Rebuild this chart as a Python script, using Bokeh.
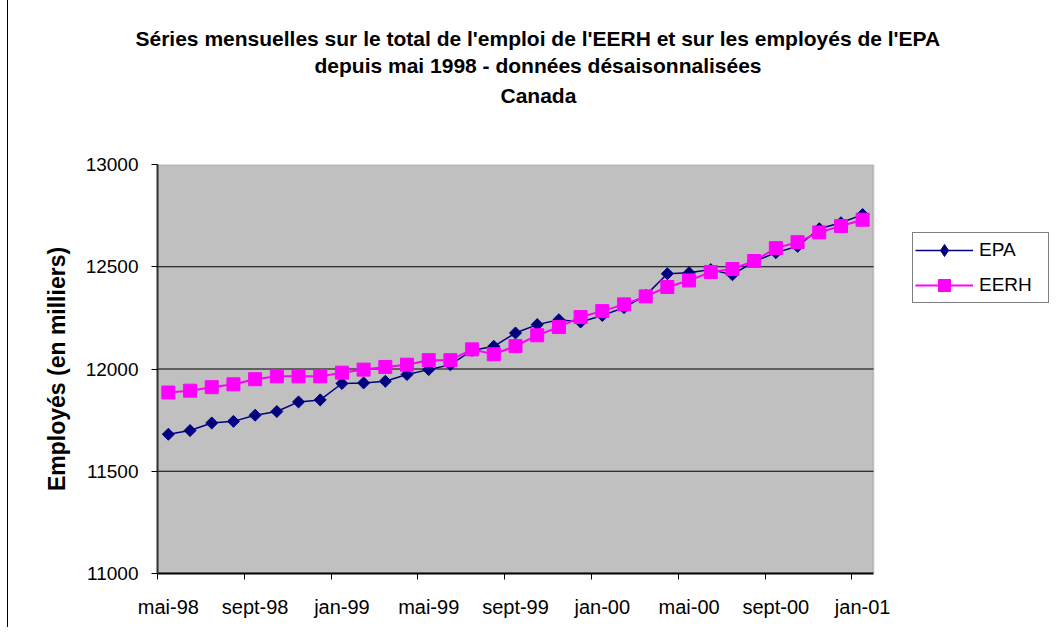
import math
from bokeh.plotting import figure
from bokeh.models import Range1d, FixedTicker, Legend, LegendItem, Title, BoxAnnotation
from bokeh.embed import file_html
from bokeh.resources import INLINE

months = ["mai-98", "juin-98", "juil-98", "août-98", "sept-98", "oct-98", "nov-98", "déc-98",
          "jan-99", "févr-99", "mars-99", "avr-99", "mai-99", "juin-99", "juil-99", "août-99",
          "sept-99", "oct-99", "nov-99", "déc-99", "jan-00", "févr-00", "mars-00", "avr-00",
          "mai-00", "juin-00", "juil-00", "août-00", "sept-00", "oct-00", "nov-00", "déc-00",
          "jan-01"]

epa = [11681, 11699, 11736, 11744, 11774, 11792, 11839, 11849,
       11929, 11932, 11940, 11973, 11997, 12021, 12091, 12111,
       12176, 12217, 12241, 12230, 12262, 12300, 12360, 12466,
       12471, 12486, 12461, 12525, 12569, 12600, 12686, 12715,
       12755]

eerh = [11885, 11894, 11911, 11925, 11950, 11964, 11964, 11964,
        11982, 11997, 12010, 12021, 12043, 12043, 12096, 12072,
        12112, 12165, 12205, 12254, 12283, 12316, 12355, 12401,
        12433, 12474, 12489, 12528, 12591, 12620, 12668, 12699,
        12730]

y_ticks = [11000, 11500, 12000, 12500, 13000]
title_lines = ["Séries mensuelles sur le total de l'emploi de l'EERH et sur les employés de l'EPA",
               "depuis mai 1998 - données désaisonnalisées",
               "Canada"]
y_label = "Employés (en milliers)"

FONT = "Liberation Sans"
n = len(months)
x = list(range(n))
label_pos = x[::4]
tick_pos = [i - 0.5 for i in label_pos]

# layout geometry (pixels)
FIG_W, FIG_H = 1042, 627
LEFT, TOP, BOTTOM = 149, 164, 54
PLOT_W = 716                      # width of the grey plotting area
frame_w = FIG_W - LEFT
x0, x1 = -0.5, n - 0.5
x_end = x0 + (x1 - x0) * frame_w / PLOT_W

p = figure(width=FIG_W, height=FIG_H, output_backend="svg", toolbar_location=None,
           x_range=Range1d(x0, x_end), y_range=Range1d(y_ticks[0], y_ticks[-1]),
           min_border_left=LEFT, min_border_right=0, min_border_top=TOP, min_border_bottom=BOTTOM)
p.title.visible = False
p.background_fill_color = "white"
p.border_fill_color = "white"
p.outline_line_color = None
p.xgrid.visible = False
p.ygrid.visible = False

# grey plotting area with its grey border
p.add_layout(BoxAnnotation(left=x0, right=x1, bottom=y_ticks[0], top=y_ticks[-1],
                           fill_color="#C0C0C0", fill_alpha=1, line_color="#808080",
                           line_width=2, level="underlay"))

# horizontal gridlines inside the plotting area
grid_y = y_ticks[1:-1]
p.segment(x0=[x0] * len(grid_y), x1=[x1] * len(grid_y), y0=grid_y, y1=grid_y,
          line_color="black", line_width=1)

# y axis
p.yaxis.ticker = FixedTicker(ticks=y_ticks)
p.yaxis.axis_line_color = "#303030"
p.yaxis.axis_line_width = 2
p.yaxis.major_tick_out = 6
p.yaxis.major_tick_in = 0
p.yaxis.minor_tick_out = 0
p.yaxis.minor_tick_in = 0
p.yaxis.major_tick_line_color = "black"
p.yaxis.major_label_standoff = 13
p.yaxis.major_label_text_font = FONT
p.yaxis.major_label_text_font_size = "19px"
p.yaxis.major_label_text_color = "black"
p.yaxis.axis_label = y_label
p.yaxis.axis_label_text_font = FONT
p.yaxis.axis_label_text_font_style = "bold"
p.yaxis.axis_label_text_font_size = "23px"
p.yaxis.axis_label_text_color = "black"
p.yaxis.axis_label_standoff = 13

# x axis
p.xaxis.bounds = (x0, x1)
p.xaxis.ticker = FixedTicker(ticks=label_pos, minor_ticks=tick_pos)
p.xaxis.major_label_overrides = {i: months[i] for i in label_pos}
p.xaxis.axis_line_color = "black"
p.xaxis.axis_line_width = 2
p.xaxis.major_tick_out = 0
p.xaxis.major_tick_in = 0
p.xaxis.minor_tick_out = 6
p.xaxis.minor_tick_in = 0
p.xaxis.minor_tick_line_color = "black"
p.xaxis.major_label_standoff = 16
p.xaxis.major_label_text_font = FONT
p.xaxis.major_label_text_font_size = "20px"
p.xaxis.major_label_text_color = "black"

# series
r1 = p.line(x, epa, line_color="#000080", line_width=1.5)
r1m = p.scatter(x, epa, marker="square", angle=math.pi / 4, size=8.5,
                fill_color="#000080", line_color="#000080")
# legend-only diamond symbol (size 0 on the plot; legend sizes its own symbol)
r1k = p.scatter(x, epa, marker="diamond", size=0,
                fill_color="#000080", line_color="#000080")
r2 = p.line(x, eerh, line_color="#FF00FF", line_width=2)
r2m = p.scatter(x, eerh, marker="square", size=13, fill_color="#FF00FF", line_color="#FF00FF")

legend = Legend(items=[LegendItem(label="EPA", renderers=[r1, r1k]),
                       LegendItem(label="EERH", renderers=[r2, r2m])],
                location=(755, 270), margin=0, padding=2, spacing=5,
                glyph_width=58, glyph_height=30, label_height=30, label_width=67,
                label_standoff=6, border_line_color="black", border_line_width=1,
                background_fill_color="white", background_fill_alpha=1,
                label_text_font=FONT, label_text_font_size="19px", label_text_color="black")
p.add_layout(legend)

# title: spacer nearest the plot, then the three lines (nearest first)
p.add_layout(Title(text=" ", text_font=FONT, text_font_size="21px", standoff=28), "above")
standoffs = [2, 2, 8]
offsets = [-22, 157, 343]
for txt, off, so in reversed(list(zip(title_lines, offsets, standoffs))):
    p.add_layout(Title(text=txt, align="left", offset=off, vertical_align="middle",
                       text_font=FONT, text_font_style="bold", text_font_size="21px",
                       text_color="black", standoff=so), "above")

p.styles = {"border-left": "1px solid black", "margin-left": "7px"}

open("out.html", "w").write(file_html(p, INLINE))
